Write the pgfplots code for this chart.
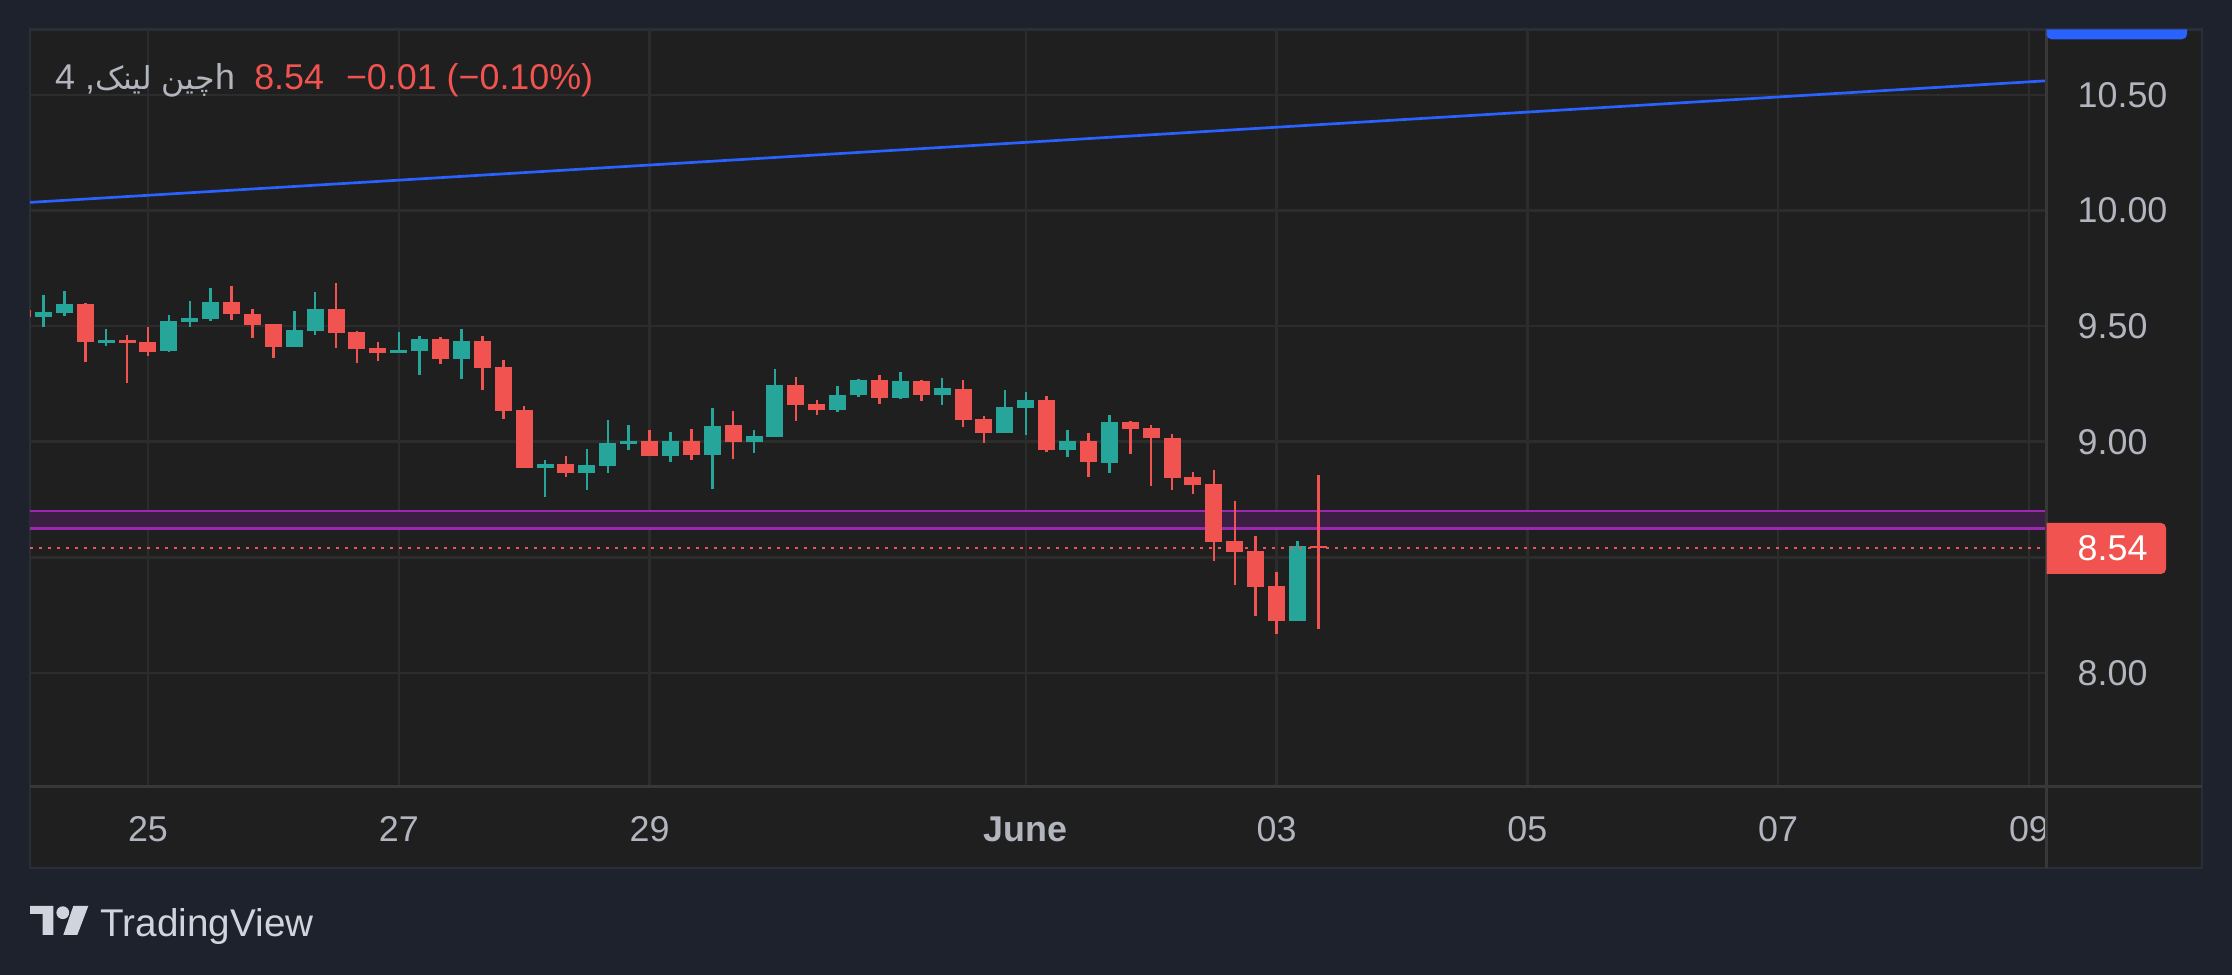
\documentclass[border=0pt]{standalone}
\usepackage{pgfplots}
\usepackage{pgfplotstable}
\pgfplotsset{compat=1.18}
\usepackage{fontspec}
\setmainfont{Liberation Sans}
\newfontfamily\arabicfont[Script=Arabic,Scale=0.88]{DejaVu Sans}
\TeXXeTstate=1
\definecolor{outerbg}{HTML}{1E222D}
\definecolor{panelbg}{HTML}{1F1F1F}
\definecolor{panelborder}{HTML}{2A2E39}
\definecolor{sepc}{HTML}{383838}
\definecolor{gridc}{HTML}{2C2C2C}
\definecolor{labelgray}{HTML}{B2B5BE}
\definecolor{tvred}{HTML}{F05350}
\definecolor{tvteal}{HTML}{26A69A}
\definecolor{tvblue}{HTML}{2962FF}
\definecolor{tvpurple}{HTML}{9C27B0}
\definecolor{bandc}{HTML}{3A1F42}
\definecolor{logoc}{HTML}{D1D4DC}

% 4h candles, x = candle index (0 = May 25 00:00)
\pgfplotstableread{
i O H L C
-5 9.541 9.634 9.497 9.561
-4 9.558 9.652 9.545 9.596
-2 9.426 9.487 9.415 9.439
1 9.392 9.548 9.389 9.522
2 9.519 9.608 9.497 9.534
3 9.531 9.665 9.524 9.604
7 9.411 9.565 9.411 9.483
8 9.479 9.648 9.463 9.574
12 9.385 9.474 9.385 9.397
13 9.392 9.457 9.289 9.444
15 9.358 9.487 9.271 9.437
19 8.886 8.921 8.761 8.904
21 8.865 8.968 8.791 8.899
22 8.895 9.094 8.865 8.994
23 8.990 9.072 8.964 9.003
25 8.938 9.042 8.912 9.003
27 8.942 9.146 8.795 9.068
29 8.998 9.051 8.951 9.025
30 9.020 9.314 9.020 9.245
33 9.137 9.241 9.128 9.202
34 9.202 9.271 9.193 9.267
36 9.189 9.301 9.185 9.263
38 9.202 9.275 9.159 9.232
41 9.038 9.224 9.038 9.150
42 9.146 9.215 9.029 9.180
44 8.964 9.051 8.934 9.003
46 8.908 9.115 8.865 9.085
55 8.225 8.571 8.225 8.549
}\upc
\pgfplotstableread{
i O H L C
-6 9.570 9.580 9.530 9.540
-3 9.596 9.600 9.346 9.430
-1 9.440 9.461 9.253 9.427
0 9.431 9.495 9.372 9.388
4 9.604 9.673 9.528 9.554
5 9.552 9.574 9.450 9.506
6 9.509 9.509 9.363 9.411
9 9.574 9.686 9.407 9.472
10 9.474 9.477 9.342 9.402
11 9.405 9.431 9.350 9.385
14 9.444 9.453 9.337 9.358
16 9.437 9.457 9.224 9.319
17 9.323 9.353 9.098 9.133
18 9.137 9.154 8.886 8.886
20 8.904 8.938 8.847 8.865
24 9.003 9.051 8.938 8.938
26 9.003 9.055 8.921 8.942
28 9.072 9.133 8.925 8.998
31 9.245 9.280 9.089 9.159
32 9.163 9.181 9.116 9.137
35 9.267 9.288 9.163 9.189
37 9.263 9.267 9.176 9.202
39 9.228 9.267 9.064 9.094
40 9.098 9.111 8.994 9.038
43 9.180 9.198 8.955 8.964
45 9.003 9.038 8.847 8.912
47 9.085 9.089 8.947 9.055
48 9.059 9.072 8.808 9.016
49 9.016 9.033 8.791 8.843
50 8.847 8.869 8.774 8.813
51 8.817 8.878 8.484 8.567
52 8.571 8.743 8.380 8.523
53 8.527 8.592 8.246 8.372
54 8.376 8.436 8.168 8.225
56 8.549 8.856 8.190 8.540
}\downc

\pgfplotsset{
  candle/.style 2 args={only marks, mark=*, mark size=0pt, mark options={draw=none, fill=none},
    error bars/.cd, y dir=plus, y explicit, error mark=none,
    error bar style={draw=#1, line width=#2, line cap=butt}},
}

\begin{document}
\begin{tikzpicture}
\fontsize{10.2}{12}\selectfont
\begin{scope}[x=0.1mm,y=0.1mm]
\fill[outerbg] (0,0) rectangle (2232,975);
\fill[panelbg] (30,107) rectangle (2202,945.7);
\draw[panelborder, line width=0.25mm] (30,107) rectangle (2202,945.7);
\end{scope}

\begin{axis}[
  name=ax,
  at={(3mm,18.8mm)}, anchor=south west,
  scale only axis, width=201.65mm, height=75.77mm,
  xmin=-5.646, xmax=90.84, ymin=7.5065, ymax=10.7837,
  axis line style={draw=none},
  major tick length=0pt,
  tick style={draw=none},
  grid=major,
  major grid style={draw=gridc, line width=0.25mm},
  xtick={0,12,24,42,54,66,78,90},
  xticklabels={25,27,29,\textbf{June},03,05,07,09},
  ytick={8,8.5,9,9.5,10,10.5},
  yticklabels={8.00,{},9.00,9.50,10.00,10.50},
  yticklabel pos=right,
  xticklabel style={anchor=base, yshift=-5.47mm, inner sep=0pt, text=labelgray, font=\fontsize{10.2}{12}\selectfont},
  yticklabel style={anchor=west, xshift=3.05mm, inner sep=0pt, text=labelgray, font=\fontsize{10.2}{12}\selectfont},
  /pgf/number format/assume math mode=true,
]
% purple band
\addplot[fill=bandc, draw=none] coordinates {(-5.646,8.625) (90.84,8.625) (90.84,8.70) (-5.646,8.70)} -- cycle;
\addplot[tvpurple, line width=0.27mm] coordinates {(-5.646,8.70) (90.84,8.70)};
\addplot[tvpurple, line width=0.27mm] coordinates {(-5.646,8.625) (90.84,8.625)};
% blue trend line
\addplot[tvblue, line width=0.27mm] coordinates {(-5.646,10.035) (90.84,10.561)};
% wicks
\addplot[candle={tvteal}{0.25mm}]
  table[x=i, y=L, y error expr=\thisrow{H}-\thisrow{L}] {\upc};
\addplot[candle={tvred}{0.25mm}]
  table[x=i, y=L, y error expr=\thisrow{H}-\thisrow{L}] {\downc};
% bodies
\addplot[candle={tvteal}{1.7mm}]
  table[x=i, y=O, y error expr=\thisrow{C}-\thisrow{O}] {\upc};
\addplot[candle={tvred}{1.7mm}]
  table[x=i, y=C, y error expr=\thisrow{O}-\thisrow{C}] {\downc};
% last price line
\addplot[tvred, line width=0.27mm, dash pattern=on 0.27mm off 0.63mm] coordinates {(-5.646,8.54) (90.84,8.54)};
\end{axis}

\begin{scope}[x=0.1mm,y=0.1mm]
% separators
\draw[sepc, line width=0.3mm] (2046.5,107) -- (2046.5,945.7);
\draw[sepc, line width=0.3mm] (30,188) -- (2202,188);

% blue marker at top of price scale
\fill[tvblue] (2046.5,935.7) -- (2046.5,945.7) -- (2187,945.7) {[rounded corners=0.5mm] -- (2187,935.7) -- (2046.5,935.7)} -- cycle;

% last price label
\fill[tvred] (2046.5,401) -- (2046.5,452) {[rounded corners=0.5mm] -- (2166,452) -- (2166,401)} -- cycle;
\node[anchor=west, inner sep=0pt, text=white] at (2077,426.7) {8.54};

% title
\node[anchor=base west, inner sep=0pt, text=labelgray] at (54.5,885.7) {4 ,{\arabicfont\beginR چین لینک\endR}h};
\node[anchor=base west, inner sep=0pt, text=tvred] at (253.6,885.7) {8.54\hspace{2.2mm}−0.01 (−0.10\%)};

% TradingView logo
\fill[logoc] (30,69) -- (53.3,69) -- (53.3,40) -- (42.7,40) -- (42.7,61) -- (30,61) -- cycle;
\fill[logoc] (62.8,62.3) circle (6.4);
\fill[logoc] (73.3,69) -- (88.3,69) -- (77.3,40) -- (63.3,40) -- cycle;
\node[anchor=base west, inner sep=0pt, text=logoc, font=\fontsize{11}{13}\selectfont] at (100,38.3) {TradingView};

\pgfresetboundingbox
\useasboundingbox (0,0) rectangle (2232,975);
\end{scope}
\end{tikzpicture}
\end{document}
